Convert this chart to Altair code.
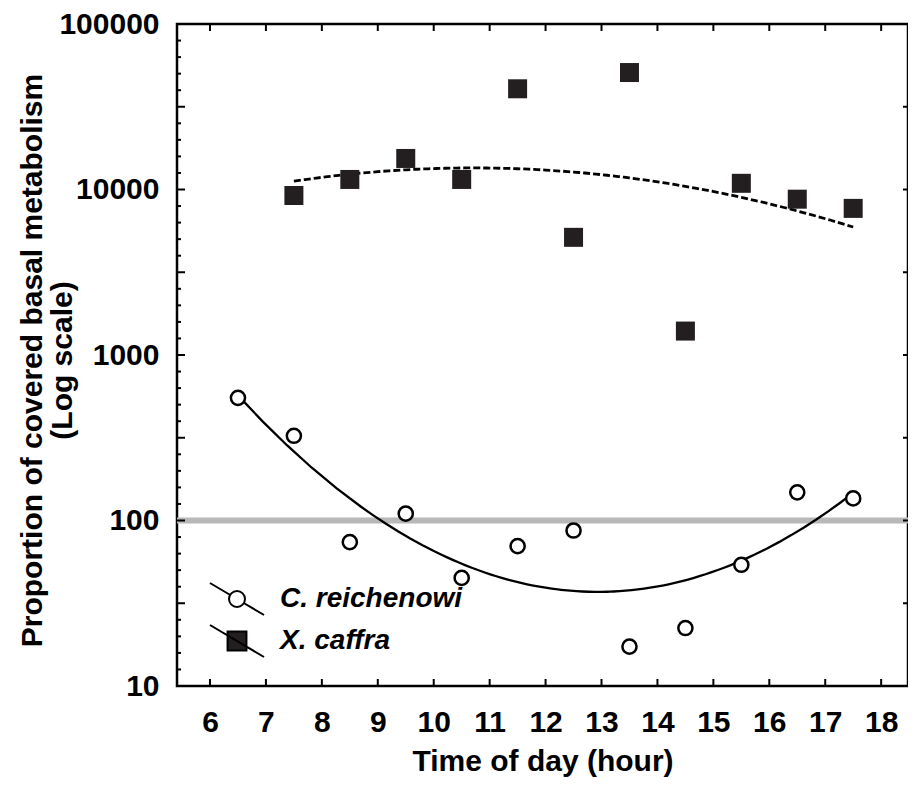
import altair as alt
import pandas as pd

# ---- data ----
hours_c = [6.5, 7.5, 8.5, 9.5, 10.5, 11.5, 12.5, 13.5, 14.5, 15.5, 16.5, 17.5]
vals_c = [551, 325, 74, 110, 45, 70, 87, 17.3, 22.4, 54, 148, 136]
hours_x = [7.5, 8.5, 9.5, 10.5, 11.5, 12.5, 13.5, 14.5, 15.5, 16.5, 17.5]
vals_x = [9200, 11500, 15400, 11500, 40600, 5140, 50900, 1395, 10900, 8740, 7690]
series_names = ["C. reichenowi", "X. caffra"]
x_ticks = list(range(6, 19))
y_labels = [10, 100, 1000, 10000, 100000]
reference_level = [100]
minor_y = [10 ** (1 + k / 10) for k in range(1, 40) if k % 5]
half_y = [10 ** (1 + k / 10) for k in range(5, 40, 5)]

FONT = "Liberation Sans"
W, H = 731, 662
INK = "#231f20"

df_c = pd.DataFrame({"hour": hours_c, "value": vals_c, "series": series_names[0]})
df_x = pd.DataFrame({"hour": hours_x, "value": vals_x, "series": series_names[1]})

xscale = alt.Scale(domain=[5.41, 18.48], nice=False, zero=False)
yscale = alt.Scale(type="log", domain=[10, 100000], nice=False)

xaxis = alt.Axis(
    values=x_ticks, format="d", labelFont=FONT, labelFontSize=30, labelFontWeight="bold",
    labelColor="black", labelBaseline="alphabetic", labelPadding=45,
    ticks=False, tickSize=0, domain=False, grid=False,
    title="Time of day (hour)", titleFont=FONT, titleFontSize=30, titleFontWeight="bold",
    titleColor="black", titleBaseline="alphabetic", titleY=84,
)
yaxis = alt.Axis(
    values=y_labels, format="d", labelFont=FONT, labelFontSize=30, labelFontWeight="bold",
    labelColor="black", labelPadding=18,
    ticks=False, tickSize=0, domain=False, grid=False,
    title=["Proportion of covered basal metabolism", "(Log scale)"],
    titleFont=FONT, titleFontSize=30, titleFontWeight="bold", titleColor="black",
    titleLineHeight=30, titleBaseline="middle", titleAlign="center",
    titleX=-145, titleY=336,
)


def X(f="hour"):
    return alt.X(f"{f}:Q", scale=xscale, axis=xaxis)


def Y(f="value"):
    return alt.Y(f"{f}:Q", scale=yscale, axis=yaxis)


ref_line = alt.Chart(pd.DataFrame({"value": reference_level})).mark_rule(
    color="#b8b8b8", strokeWidth=6).encode(y=Y())


def fit(df, **style):
    return (
        alt.Chart(df)
        .transform_calculate(lv="log(datum.value)/LN10")
        .transform_regression("hour", "lv", method="poly", order=2)
        .transform_calculate(value="pow(10, datum.lv)")
        .mark_line(color="black", **style)
        .encode(x=X(), y=Y())
    )


fit_c = fit(df_c, strokeWidth=2.3)
fit_x = fit(df_x, strokeWidth=2.8, strokeDash=[7, 3])

# inward ticks on all four sides of the frame
left_minor = alt.Chart(pd.DataFrame({"v": minor_y})).mark_rule(color="black", strokeWidth=2).encode(
    y=Y("v"), x=alt.value(0), x2=alt.value(4))
left_half = alt.Chart(pd.DataFrame({"v": half_y})).mark_rule(color="black", strokeWidth=2).encode(
    y=Y("v"), x=alt.value(0), x2=alt.value(8))
right_half = alt.Chart(pd.DataFrame({"v": half_y})).mark_rule(color="black", strokeWidth=2).encode(
    y=Y("v"), x=alt.value(W), x2=alt.value(W - 5))
top_ticks = alt.Chart(pd.DataFrame({"h": x_ticks})).mark_rule(color="black", strokeWidth=2).encode(
    x=X("h"), y=alt.value(0), y2=alt.value(7))
bottom_ticks = alt.Chart(pd.DataFrame({"h": x_ticks})).mark_rule(color="black", strokeWidth=2).encode(
    x=X("h"), y=alt.value(H), y2=alt.value(H - 7))

circles = alt.Chart(df_c).mark_point(
    shape="circle", size=200, filled=True, fill="white", stroke="black", strokeWidth=2.5, opacity=1
).encode(x=X(), y=Y())

squares = alt.Chart(df_x).mark_point(
    shape="square", size=361, filled=True, color=INK, opacity=1
).encode(x=X(), y=Y())

# legend: diagonal line through the marker
path_c = ("M-1.69,-1L-0.42,-0.25M0.42,0.25L1.69,1"
          "M0.5,0A0.5,0.5,0,1,1,-0.5,0A0.5,0.5,0,1,1,0.5,0Z")
path_x = "M-1.69,-1L1.69,1M-0.59,-0.59L0.59,-0.59L0.59,0.59L-0.59,0.59Z"

leg = alt.Legend(
    title=None, orient="none", legendX=43, legendY=558, padding=0,
    symbolSize=1024, symbolStrokeWidth=2, symbolStrokeColor="black",
    labelFont=FONT, labelFontSize=28, labelFontWeight="bold", labelFontStyle="italic",
    labelColor="black", labelLimit=400, labelOffset=26, rowPadding=2,
)
legend_layer = (
    alt.Chart(pd.DataFrame({"hour": [6.0, 6.0], "value": [10, 10], "series": series_names}))
    .transform_filter("false")
    .mark_point(filled=False, strokeWidth=2, opacity=1)
    .encode(
        x=X(), y=Y(),
        shape=alt.Shape("series:N", scale=alt.Scale(domain=series_names, range=[path_c, path_x]), legend=leg),
        fill=alt.Fill("series:N", scale=alt.Scale(domain=series_names, range=["white", INK]), legend=leg),
        stroke=alt.Stroke("series:N", scale=alt.Scale(domain=series_names, range=["black", "black"]), legend=leg),
    )
)

chart = (
    alt.layer(ref_line, fit_c, fit_x, left_minor, left_half, right_half,
              top_ticks, bottom_ticks, circles, squares, legend_layer)
    .properties(
        width=W, height=H,
        autosize=alt.AutoSizeParams(type="none"),
        padding={"left": 169, "top": 16, "right": 0, "bottom": 92},
        background="white",
    )
    .configure_view(stroke="black", strokeWidth=2.5)
)

chart.save("out.html", embed_options={"renderer": "svg", "actions": False})
